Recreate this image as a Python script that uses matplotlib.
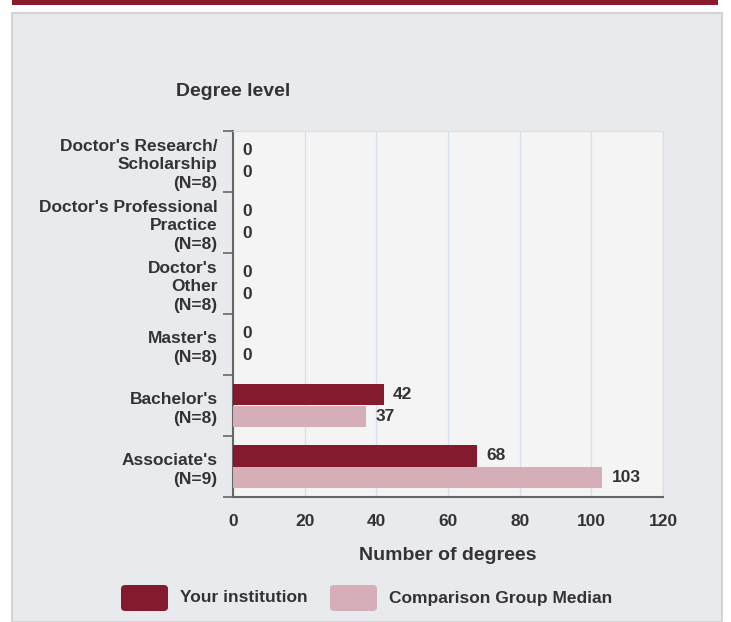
import numpy as np
import matplotlib.pyplot as plt
from matplotlib.patches import Rectangle, FancyBboxPatch

plt.rcParams['font.family'] = ['Liberation Sans', 'DejaVu Sans']
plt.rcParams['font.weight'] = 'bold'

# data
categories = ["Doctor's Research/\nScholarship\n(N=8)",
              "Doctor's Professional\nPractice\n(N=8)",
              "Doctor's\nOther\n(N=8)",
              "Master's\n(N=8)",
              "Bachelor's\n(N=8)",
              "Associate's\n(N=9)"]
your_inst = [0, 0, 0, 0, 42, 68]
comparison = [0, 0, 0, 0, 37, 103]
x_ticks = [0, 20, 40, 60, 80, 100, 120]

c_your = '#831a2e'
c_comp = '#d5aeb8'
c_text = '#333333'

W, H = 731, 622
fig = plt.figure(figsize=(W / 100, H / 100), dpi=100)
fig.patch.set_facecolor('white')

# panel background and top bar
fig.patches.append(Rectangle((12 / W, 0), 710 / W, 1 - 13 / H, transform=fig.transFigure,
                             facecolor='#e9eaee', edgecolor='#d4d4d6', linewidth=1.5, zorder=-2))
fig.patches.append(Rectangle((12 / W, 1 - 5 / H), 706 / W, 5 / H, transform=fig.transFigure,
                             facecolor='#8a1a2c', edgecolor='none', zorder=-2))

ax = fig.add_axes([233 / W, 1 - 497 / H, 430 / W, 366 / H])
ax.set_zorder(1)
ax.set_facecolor('#f4f4f5')

y = np.arange(len(categories))
h = 0.36
b1 = ax.barh(y - h / 2, your_inst, height=h, color=c_your, zorder=3)
b2 = ax.barh(y + h / 2, comparison, height=h, color=c_comp, zorder=3)

for bars, vals in ((b1, your_inst), (b2, comparison)):
    for bar, v in zip(bars, vals):
        ax.annotate(str(v), (v, bar.get_y() + bar.get_height() / 2),
                    xytext=(7, 0), textcoords='offset points',
                    ha='left', va='center', fontsize=12.5, fontweight='bold', color=c_text)

ax.set_xlim(0, 120)
ax.set_ylim(len(categories) - 0.5, -0.5)
ax.set_xticks(x_ticks)
ax.set_xticklabels([str(t) for t in x_ticks], fontsize=12.5, fontweight='bold', color=c_text)
ax.tick_params(axis='x', length=0, pad=12)

# boundary ticks (major) and centered labels (minor)
ax.set_yticks(np.arange(len(categories) + 1) - 0.5)
ax.set_yticklabels([])
ax.tick_params(axis='y', which='major', length=7, width=1.2, color='#666666', direction='out')
ax.set_yticks(y, minor=True)
ax.set_yticklabels(categories, minor=True, fontsize=12.5, fontweight='bold', color=c_text,
                   linespacing=1.3)
ax.tick_params(axis='y', which='minor', length=0, pad=11)

ax.grid(axis='x', color='#d6e0ea', linewidth=1, zorder=0)
for s in ('top', 'right'):
    ax.spines[s].set_color('#dcdcdc')
for s in ('left', 'bottom'):
    ax.spines[s].set_color('#666666')
    ax.spines[s].set_linewidth(1.5)

fig.text(233 / W, 1 - 91 / H, 'Degree level', ha='center', va='center',
         fontsize=14, fontweight='bold', color=c_text)
fig.text(448 / W, 1 - 555 / H, 'Number of degrees', ha='center', va='center',
         fontsize=14, fontweight='bold', color=c_text)

# legend
legend_items = [('Your institution', c_your, 121), ('Comparison Group Median', c_comp, 330)]
for label, col, x0 in legend_items:
    fig.patches.append(FancyBboxPatch((x0 / W, 1 - 611 / H), 47 / W, 26 / H,
                                      boxstyle='round,pad=0,rounding_size=0.006',
                                      transform=fig.transFigure, facecolor=col,
                                      edgecolor='none', zorder=2))
    fig.text((x0 + 59) / W, 1 - 598 / H, label, ha='left', va='center',
             fontsize=12.5, fontweight='bold', color=c_text)

fig.savefig('out.png', dpi=100)
